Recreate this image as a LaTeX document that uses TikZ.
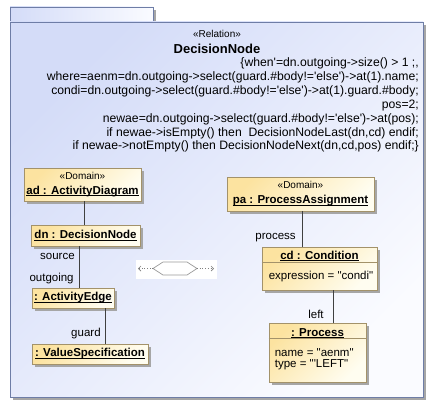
\documentclass[tikz,border=0pt]{standalone}
\usepackage{fontspec}
\setmainfont{Liberation Sans}[Ligatures=TeXOff]
\usetikzlibrary{arrows.meta,shadows}

\definecolor{frameA}{HTML}{D4DCF8}
\definecolor{frameB}{HTML}{FAFBFF}
\definecolor{frameLine}{HTML}{6E7DA6}
\definecolor{objA}{HTML}{FCE3A0}
\definecolor{objB}{HTML}{FFFDF0}
\definecolor{objLine}{HTML}{A3926A}
\definecolor{shadowgray}{HTML}{A6A6A6}
\definecolor{assocLine}{HTML}{404040}

\newcommand\objname[1]{{\setbox0\hbox{\bfseries #1}\rlap{\rule[-1.8pt]{\wd0}{0.9pt}}\box0}}
\newcommand\stereo[1]{{\fontsize{10}{12}\selectfont «#1»}}

\begin{document}
\begin{tikzpicture}[x=1pt,y=-1pt,
    every node/.style={font=\fontsize{11.5}{14}\selectfont,inner sep=0pt},
    obj/.style={draw=objLine,line width=0.7pt,left color=objA,right color=objB,shading angle=45,
      drop shadow={shadow xshift=3pt,shadow yshift=-3pt,fill=shadowgray,opacity=1}},
    assoc/.style={draw=assocLine,line width=0.7pt},
    role/.style={font=\fontsize{11.5}{14}\selectfont}]
  \useasboundingbox (0,0) rectangle (433,412);

  % frame with its tab
  \fill[shadowgray] (13,10) rectangle (156,22);
  \draw[frameLine,line width=0.8pt,left color=frameA,right color=frameB] (10,7) rectangle (153,22);
  \fill[shadowgray] (13,25) rectangle (426,400);
  \draw[frameLine,line width=0.8pt,left color=frameA,right color=frameB,shading angle=45] (10,22) rectangle (423,397);

  \node (stereo) at (217,34) {\stereo{Relation}};
  \node[font=\fontsize{13}{15}\selectfont\bfseries] (title) at (217,48.5) {DecisionNode};
  \node[anchor=north east,align=right,font=\fontsize{12.2}{13.9}\selectfont] (rel) at (419,57.5)
    {\{when'=dn.outgoing->size() > 1 ;,\\
     where=aenm=dn.outgoing->select(guard.\#body!='else')->at(1).name;\\
     condi=dn.outgoing->select(guard.\#body!='else')->at(1).guard.\#body;\\
     pos=2;\\
     newae=dn.outgoing->select(guard.\#body!='else')->at(pos);\\
     if newae->isEmpty() then\ \ DecisionNodeLast(dn,cd) endif;\\
     if newae->notEmpty() then DecisionNodeNext(dn,cd,pos) endif;\}};

  % left column
  \node[obj,minimum width=117pt,minimum height=33pt,align=center] (ad) at (82.5,184.5)
    {\stereo{Domain}\\[1pt]\objname{ad : ActivityDiagram}};
  \node[obj,minimum width=109pt,minimum height=21pt] (dn) at (85.5,235.5) {\objname{dn : DecisionNode}};
  \node[obj,minimum width=82pt,minimum height=20pt] (ae) at (73,298) {\objname{: ActivityEdge}};
  \node[obj,minimum width=116pt,minimum height=20pt] (vs) at (90,354) {\objname{: ValueSpecification}};

  \draw[assoc] ([xshift=1.5pt]ad.south) -- ([xshift=1.5pt]ad.south |- dn.north);
  \draw[assoc] ([xshift=6pt]ae.north |- dn.south) -- ([xshift=6pt]ae.north)
    node[role,pos=0.24,left=4pt] (src) {source}
    node[role,pos=0.79,left=5pt] (out) {outgoing};
  \draw[assoc] ([xshift=32pt]ae.south) -- ([xshift=32pt]ae.south |- vs.north)
    node[role,pos=0.72,left=4pt] (grd) {guard};

  % hexagon in the middle
  \node[fill=white,minimum width=81pt,minimum height=19pt] (hexbox) at (176.5,269.5) {};
  \coordinate (hl) at (153,268.5);
  \coordinate (hr) at (197,268.5);
  \coordinate (el) at (138,268.5);
  \coordinate (er) at (214,268.5);
  \draw[gray!80,line width=0.7pt] (hl) -- (163,262) -- (187,262) -- (hr) -- (187,275) -- (163,275) -- cycle;
  \draw[gray,dotted,line width=0.7pt,-{Straight Barb[length=2.5pt,width=5pt]}] (hl) -- (el);
  \draw[gray,dotted,line width=0.7pt,-{Straight Barb[length=2.5pt,width=5pt]}] (hr) -- (er);

  % right column
  \node[obj,minimum width=147pt,minimum height=34pt,align=center] (pa) at (300.5,194)
    {\stereo{Domain}\\[1pt]\objname{pa : ProcessAssignment}};
  \node[obj,minimum width=115pt,minimum height=43pt] (cd) at (319.5,268.5) {};
  \node[anchor=base] (cdname) at (319.5,259) {\objname{cd : Condition}};
  \draw[objLine,line width=0.7pt] (cd.west |- 0,262) -- (cd.east |- 0,262);
  \node[anchor=base west] (cdexpr) at ([xshift=7pt]cd.west |- 0,279) {expression = "condi"};

  \node[obj,minimum width=97pt,minimum height=59pt] (proc) at (317.5,352.5) {};
  \node[anchor=base] (procname) at (317.5,336) {\objname{: Process}};
  \draw[objLine,line width=0.7pt] (proc.west |- 0,338.5) -- (proc.east |- 0,338.5);
  \node[anchor=base west] (procname2) at ([xshift=6pt]proc.west |- 0,356.5) {name = "aenm"};
  \node[anchor=base west] (proctype) at ([xshift=6pt]proc.west |- 0,367.5) {type = "'LEFT"};

  \draw[assoc] ([xshift=1.5pt]pa.south) -- ([xshift=1.5pt]pa.south |- cd.north)
    node[role,pos=0.75,left=6pt] (prc) {process};
  \draw[assoc] ([xshift=13.5pt]cd.south) -- ([xshift=13.5pt]cd.south |- proc.north)
    node[role,pos=0.73,left=9pt] (lft) {left};
\end{tikzpicture}
\end{document}
